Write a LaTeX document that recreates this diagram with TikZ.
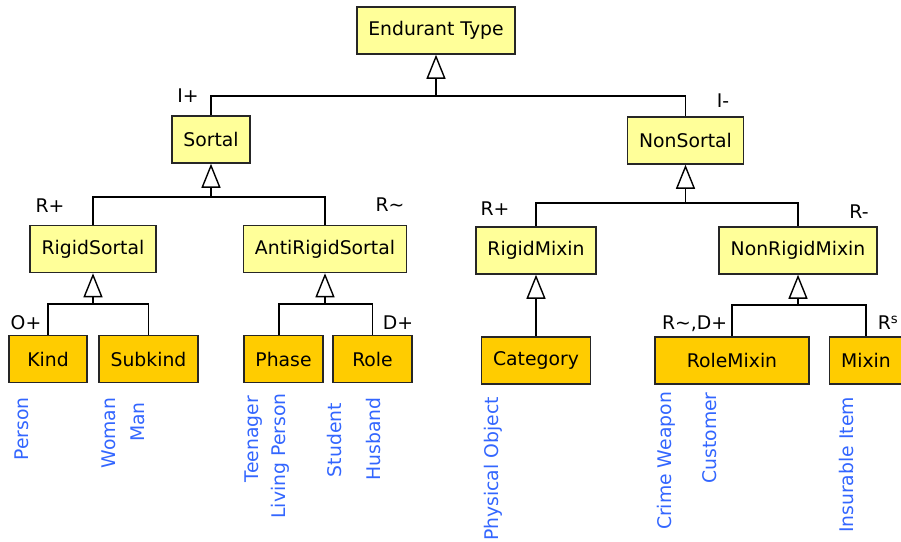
\documentclass[tikz,border=0pt]{standalone}
\usepackage{fontspec}
\setmainfont{DejaVu Sans}
\usetikzlibrary{arrows.meta}
\definecolor{paleyellow}{HTML}{FFFF99}
\definecolor{gold}{HTML}{FFCC00}
\definecolor{exblue}{HTML}{3366FF}
\begin{document}
\begin{tikzpicture}[x=1pt, y=-1pt,
  font=\fontsize{18.8}{22}\selectfont,
  every node/.style={inner sep=0pt},
  type/.style={draw=black!85, line width=1.5pt, fill=paleyellow, inner xsep=11.5pt, minimum height=47pt},
  leaf/.style={type, fill=gold},
  ex/.style={rotate=90, text=exblue},
  gen/.style={-{Triangle[open, length=24pt, width=19pt]}, line width=1.4pt},
  bus/.style={line width=1.4pt}]
\useasboundingbox (0,0) rectangle (901,541);

% types
\node [type] (endurant) at (436,30.5) {Endurant Type};
\node [type] (sortal) at (211,139.5) {Sortal};
\node [type] (nonsortal) at (685.5,140.5) {NonSortal};
\node [type] (rigidsortal) at (93,249) {RigidSortal};
\node [type] (antirigidsortal) at (325,249) {AntiRigidSortal};
\node [type] (rigidmixin) at (536,250.5) {RigidMixin};
\node [type] (nonrigidmixin) at (798,250.5) {NonRigidMixin};

% leaf types
\node [leaf, minimum width=78pt] (kind) at (48,359) {Kind};
\node [leaf] (subkind) at (148.5,359) {Subkind};
\node [leaf] (phase) at (283.5,359) {Phase};
\node [leaf, minimum width=79pt] (role) at (372.5,359) {Role};
\node [leaf] (category) at (536,360.5) {Category};
\node [leaf, minimum width=154pt] (rolemixin) at (732,360.5) {RoleMixin};
\node [leaf, minimum width=70pt] (mixin) at (866,360.5) {Mixin};

% generalization sets
\coordinate (jendurant) at (436,96);
\draw [gen] (jendurant) -- (endurant);
\draw [bus] (sortal) |- (jendurant) -| (nonsortal);
\coordinate (jsortal) at (211,197);
\draw [gen] (jsortal) -- (sortal);
\draw [bus] (rigidsortal) |- (jsortal) -| (antirigidsortal);
\coordinate (jnonsortal) at (685.5,203);
\draw [gen] (jnonsortal) -- (nonsortal);
\draw [bus] (rigidmixin) |- (jnonsortal) -| (nonrigidmixin);
\coordinate (jrigidsortal) at (93,304);
\draw [gen] (jrigidsortal) -- (rigidsortal);
\draw [bus] (kind) |- (jrigidsortal) -| (subkind);
\coordinate (jantirigid) at (325,304);
\draw [gen] (jantirigid) -- (antirigidsortal);
\draw [bus] ([xshift=-4.5pt]phase.north) |- (jantirigid) -| (role);
\draw [gen] (category) -- (rigidmixin);
\coordinate (jnonrigid) at (798,305);
\draw [gen] (jnonrigid) -- (nonrigidmixin);
\draw [bus] (rolemixin) |- (jnonrigid) -| (mixin);

% meta-properties
\node (lIplus) at (188,96) {I+};
\node (lIminus) at (723,101) {I-};
\node (lRplusA) at (50,206) {R+};
\node (lRtilde) at (390,205) {R\textasciitilde};
\node (lRplusB) at (495,209) {R+};
\node (lRminus) at (859,212) {R-};
\node (lOplus) at (26,323) {O+};
\node (lDplus) at (398,323) {D+};
\node (lRDplus) at (694.5,324) {R\textasciitilde,D+};
\node (lRs) at (888,323) {R\textsuperscript{s}};

% examples
\node [ex] (person) at (22,429) {Person};
\node [ex] (woman) at (109,433) {Woman};
\node [ex] (man) at (138,422) {Man};
\node [ex] (teenager) at (254,439) {Teenager};
\node [ex] (livingperson) at (280,456) {Living Person};
\node [ex] (student) at (334,440) {Student};
\node [ex] (husband) at (373,439) {Husband};
\node [ex] (physicalobject) at (493,469) {Physical Object};
\node [ex] (crimeweapon) at (666,461) {Crime Weapon};
\node [ex] (customer) at (710,438) {Customer};
\node [ex] (insurableitem) at (846,465) {Insurable Item};
\end{tikzpicture}
\end{document}
